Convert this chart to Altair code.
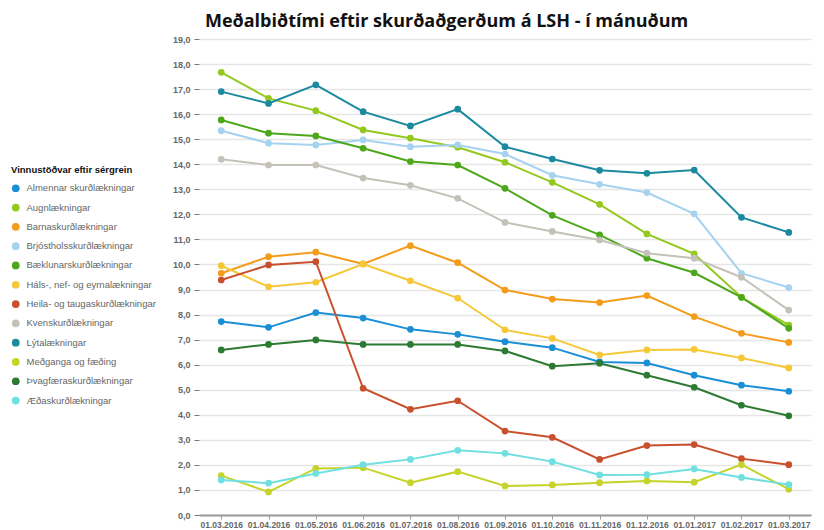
import altair as alt
import pandas as pd

dates = ["01.03.2016", "01.04.2016", "01.05.2016", "01.06.2016", "01.07.2016",
         "01.08.2016", "01.09.2016", "01.10.2016", "01.11.2016", "01.12.2016",
         "01.01.2017", "01.02.2017", "01.03.2017"]

series_names = [
    "Almennar skurðlækningar",
    "Augnlækningar",
    "Barnaskurðlækningar",
    "Brjóstholsskurðlækningar",
    "Bæklunarskurðlækningar",
    "Háls-, nef- og eyrnalækningar",
    "Heila- og taugaskurðlækningar",
    "Kvenskurðlækningar",
    "Lýtalækningar",
    "Meðganga og fæðing",
    "Þvagfæraskurðlækningar",
    "Æðaskurðlækningar",
]

series_colors = ["#1a8fd6", "#94c81f", "#f39c1a", "#a6d2ef", "#4ca81a", "#f5c83a",
                 "#c9502d", "#c4c2b8", "#1b8a9e", "#c5d32a", "#2d7a32", "#6fdfe0"]

almennar = [7.72, 7.49, 8.08, 7.86, 7.41, 7.21, 6.92, 6.68, 6.11, 6.07, 5.58, 5.18, 4.94]
augn = [17.67, 16.63, 16.14, 15.37, 15.04, 14.68, 14.08, 13.28, 12.40, 11.22, 10.42, 8.69, 7.58]
barna = [9.65, 10.31, 10.49, 10.02, 10.75, 10.07, 8.98, 8.62, 8.48, 8.76, 7.92, 7.25, 6.89]
brjost = [15.34, 14.84, 14.77, 14.97, 14.70, 14.77, 14.41, 13.56, 13.20, 12.87, 12.02, 9.65, 9.08]
baeklun = [15.77, 15.24, 15.13, 14.64, 14.11, 13.97, 13.04, 11.96, 11.18, 10.25, 9.67, 8.69, 7.45]
hals = [9.95, 9.11, 9.29, 10.02, 9.35, 8.66, 7.39, 7.05, 6.39, 6.59, 6.61, 6.27, 5.87]
heila = [9.38, 9.98, 10.11, 5.06, 4.22, 4.56, 3.35, 3.10, 2.22, 2.77, 2.81, 2.25, 2.01]
kven = [14.20, 13.97, 13.97, 13.45, 13.16, 12.64, 11.68, 11.32, 10.98, 10.45, 10.25, 9.49, 8.18]
lyta = [16.90, 16.43, 17.17, 16.10, 15.53, 16.20, 14.70, 14.21, 13.76, 13.64, 13.77, 11.88, 11.28]
medganga = [1.57, 0.92, 1.86, 1.89, 1.29, 1.73, 1.16, 1.20, 1.29, 1.36, 1.31, 2.01, 1.03]
thvag = [6.59, 6.81, 6.99, 6.81, 6.81, 6.81, 6.55, 5.94, 6.06, 5.58, 5.10, 4.38, 3.96]
aeda = [1.40, 1.27, 1.66, 2.01, 2.22, 2.58, 2.46, 2.13, 1.60, 1.61, 1.84, 1.50, 1.21]

all_values = [almennar, augn, barna, brjost, baeklun, hals, heila, kven, lyta,
              medganga, thvag, aeda]

rows = []
for name, vals in zip(series_names, all_values):
    for d, v in zip(dates, vals):
        rows.append({"dags": d, "sergrein": name, "gildi": v})
df = pd.DataFrame(rows)

FONT = "Liberation Sans"

color_scale = alt.Scale(domain=series_names, range=series_colors)

x_enc = alt.X("dags:O", sort=dates, title=None,
              scale=alt.Scale(type="point", padding=0.47),
              axis=alt.Axis(labelAngle=0, labelFont=FONT, labelFontSize=8.5,
                            labelFontWeight="bold", labelColor="#666666",
                            domainColor="#9a9a9a", domainWidth=2,
                            tickColor="#9a9a9a", tickSize=4, labelPadding=1,
                            grid=False))
y_enc = alt.Y("gildi:Q", title=None,
              scale=alt.Scale(domain=[0, 19], nice=False),
              axis=alt.Axis(values=list(range(20)),
                            labelExpr="replace(format(datum.value, '.1f'), '.', ',')",
                            labelFont=FONT, labelFontSize=9, labelFontWeight="bold",
                            labelColor="#666666", domain=False,
                            tickColor="#777777", tickSize=5,
                            labelPadding=4, grid=True, gridColor="#e6e6e6",
                            gridWidth=1.5))
color_enc = alt.Color("sergrein:N", sort=series_names, scale=color_scale,
                      legend=alt.Legend(title="Vinnustöðvar eftir sérgrein",
                                        orient="none", legendX=-188, legendY=126,
                                        titleFont=FONT, titleFontSize=9.5,
                                        titleFontWeight="bold", titleColor="#111111",
                                        titlePadding=9,
                                        labelFont=FONT, labelFontSize=9.5,
                                        labelColor="#666666", labelOffset=6,
                                        symbolType="circle", symbolSize=60,
                                        symbolStrokeWidth=0, symbolOpacity=1,
                                        rowPadding=8.3))

base = alt.Chart(df)
lines = base.mark_line(strokeWidth=2).encode(x=x_enc, y=y_enc, color=color_enc,
                                             detail="sergrein:N")
points = base.mark_circle(size=45, opacity=1).encode(
    x=x_enc, y=y_enc,
    color=alt.Color("sergrein:N", sort=series_names, scale=color_scale, legend=None))

frame_df = pd.DataFrame({"k": [0]})
frame = alt.Chart(frame_df).mark_rule(color="#a8a8a8", strokeWidth=2).encode(
    x=alt.value(-197.5), y=alt.value(23), y2=alt.value(495))
frame_top = alt.Chart(frame_df).mark_rule(color="#a8a8a8", strokeWidth=2).encode(
    x=alt.value(-201), x2=alt.value(-197), y=alt.value(23))

chart = alt.layer(frame, frame_top, lines, points).properties(
    width=612, height=476,
    autosize=alt.AutoSizeParams(type="none"),
    padding={"left": 191, "top": 31, "right": 5, "bottom": 16},
    title=alt.TitleParams("Meðalbiðtími eftir skurðaðgerðum á LSH - í mánuðum",
                          anchor="start", frame="group", dx=6, offset=4,
                          font="Open Sans", fontSize=18, fontWeight="bold",
                          color="#111111"),
).configure_view(stroke=None)

chart.save("out.html", embed_options={"renderer": "svg", "actions": False})
